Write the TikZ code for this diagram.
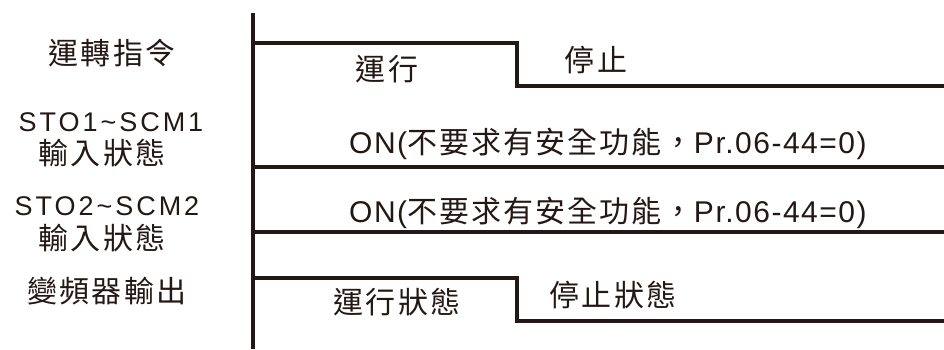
\documentclass[tikz,border=0pt]{standalone}
\usepackage{fontspec}
\setmainfont{Liberation Sans}[LetterSpace=5]
\newfontfamily\cjk{Noto Sans CJK TC}[LetterSpace=7]
\newfontfamily\latwide{Liberation Sans}[LetterSpace=11]
\definecolor{ink}{HTML}{231815}
\begin{document}
\begin{tikzpicture}[x=1pt,y=1pt,
  wave/.style={draw=ink,line width=4pt,line join=miter},
  lbl/.style={inner sep=0pt,text=ink,font=\fontsize{27}{30}\selectfont},
  sig/.style={inner sep=0pt,text=ink,font=\fontsize{30}{34}\selectfont}]
\useasboundingbox (0,0) rectangle (944,-349);
% axis and waveforms
\draw[wave] (252.5,-13) -- (252.5,-349);
\draw[wave] (252.5,-43) -- (517,-43) -- (517,-86) -- (944,-86);
\draw[wave] (252.5,-167) -- (944,-167);
\draw[wave] (252.5,-232) -- (944,-232);
\draw[wave] (252.5,-278) -- (517,-278) -- (517,-321) -- (944,-321);
% left labels
\node[sig] (l1) at (112,-53) {\cjk 運轉指令};
\node[lbl] (l2) at (111,-122) {\latwide STO1\char`~SCM1};
\node[sig] (l3) at (102,-153) {\cjk 輸入狀態};
\node[lbl] (l4) at (107,-206) {\latwide STO2\char`~SCM2};
\node[sig] (l5) at (102,-238) {\cjk 輸入狀態};
\node[sig] (l6) at (107,-291) {\cjk 變頻器輸出};
% signal labels
\node[sig] (r1) at (387,-69) {\cjk 運行};
\node[sig] (s1) at (596,-60) {\cjk 停止};
\node[sig,anchor=base west] (on1) at (349,-153) {ON({\cjk 不要求有安全功能，}Pr.06-44=0)};
\node[sig,anchor=base west] (on2) at (349,-222) {ON({\cjk 不要求有安全功能，}Pr.06-44=0)};
\node[sig] (r2) at (397,-302) {\cjk 運行狀態};
\node[sig] (s2) at (613,-295) {\cjk 停止狀態};
\end{tikzpicture}
\end{document}
